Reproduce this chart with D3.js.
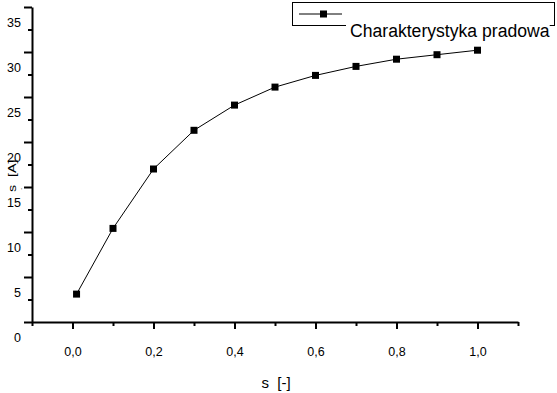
<!DOCTYPE html>
<html>
<head>
<meta charset="utf-8">
<script src="https://cdn.jsdelivr.net/npm/d3@7"></script>
<style>
  body { margin: 0; background: #fff; }
  text { font-family: "Liberation Sans", Arial, sans-serif; fill: #000; }
</style>
</head>
<body>
<svg id="chart" width="557" height="393"></svg>
<script>
const sValues = [0.01, 0.1, 0.2, 0.3, 0.4, 0.5, 0.6, 0.7, 0.8, 0.9, 1.0];
const currentValues = [3.1, 10.4, 17.0, 21.3, 24.1, 26.1, 27.4, 28.4, 29.2, 29.7, 30.2];
const xMajor = [0, 0.2, 0.4, 0.6, 0.8, 1.0];
const xMinor = [-0.1, 0.1, 0.3, 0.5, 0.7, 0.9, 1.1];
const yMajor = [0, 5, 10, 15, 20, 25, 30, 35];
const yMinor = [2.5, 7.5, 12.5, 17.5, 22.5, 27.5, 32.5];
const seriesName = "Charakterystyka pradowa";

const svg = d3.select("#chart");

const x = d3.scaleLinear().domain([-0.1, 1.1]).range([32, 518]);
const y = d3.scaleLinear().domain([0, 35]).range([322, 7]);

const comma = (d) => d3.format(".1f")(d).replace(".", ",");

// minor ticks first
svg.append("g")
  .attr("transform", "translate(0,322)")
  .call(d3.axisBottom(x).tickValues(xMinor).tickSize(4).tickSizeOuter(0).tickFormat(""))
  .call((g) => g.select(".domain").remove());
svg.append("g")
  .attr("transform", "translate(32,0)")
  .call(d3.axisLeft(y).tickValues(yMinor).tickSize(4).tickSizeOuter(0).tickFormat(""))
  .call((g) => g.select(".domain").remove());

// major ticks + labels
const gx = svg.append("g")
  .attr("transform", "translate(0,322)")
  .call(d3.axisBottom(x).tickValues(xMajor).tickSize(7).tickSizeOuter(0).tickFormat(comma));
gx.selectAll("text").attr("y", 34).attr("dy", 0).style("font-size", "12.5px");

const gy = svg.append("g")
  .attr("transform", "translate(32,0)")
  .call(d3.axisLeft(y).tickValues(yMajor).tickSize(8).tickSizeOuter(0).tickFormat((d) => d));
gy.selectAll("text").attr("x", -11).attr("y", 19).attr("dy", 0).style("font-size", "12.5px");

svg.selectAll(".domain, .tick line").attr("stroke", "#000").attr("stroke-width", 2);
svg.selectAll(".tick text").style("font-family", "'Liberation Sans', Arial, sans-serif");

// axis titles
svg.append("text")
  .attr("x", 276).attr("y", 388)
  .attr("text-anchor", "middle")
  .style("font-size", "15px")
  .attr("xml:space", "preserve")
  .text("s  [-]");

svg.append("text")
  .attr("transform", "translate(15.5,192) rotate(-90) scale(1.3,1)")
  .style("font-size", "11px")
  .attr("xml:space", "preserve")
  .text("s  [A]");
svg.append("text")
  .attr("transform", "translate(22,190) rotate(-90)")
  .style("font-size", "8px")
  .text(".");

// series
const line = d3.line().x((d, i) => x(sValues[i])).y((d) => y(d));
svg.append("path")
  .datum(currentValues)
  .attr("d", line)
  .attr("fill", "none")
  .attr("stroke", "#000")
  .attr("stroke-width", 1);

svg.selectAll(".pt")
  .data(currentValues)
  .join("rect")
  .attr("class", "pt")
  .attr("x", (d, i) => x(sValues[i]) - 3.5)
  .attr("y", (d) => y(d) - 3.5)
  .attr("width", 7)
  .attr("height", 7)
  .attr("fill", "#000");

// legend
const legend = svg.append("g");
legend.append("rect")
  .attr("x", 292.5).attr("y", 2.5)
  .attr("width", 262).attr("height", 23)
  .attr("fill", "none").attr("stroke", "#000").attr("stroke-width", 1);
legend.append("line")
  .attr("x1", 299).attr("x2", 342).attr("y1", 14).attr("y2", 14)
  .attr("stroke", "#000").attr("stroke-width", 1);
legend.append("rect")
  .attr("x", 320).attr("y", 10.5).attr("width", 7).attr("height", 7).attr("fill", "#000");
const bg = legend.append("rect").attr("fill", "#fff");
const lt = legend.append("text")
  .attr("x", 350).attr("y", 37)
  .style("font-size", "17.6px")
  .text(seriesName);
const bb = lt.node().getBBox();
bg.attr("x", bb.x - 4).attr("y", bb.y).attr("width", bb.width + 4).attr("height", bb.height);
</script>
</body>
</html>
